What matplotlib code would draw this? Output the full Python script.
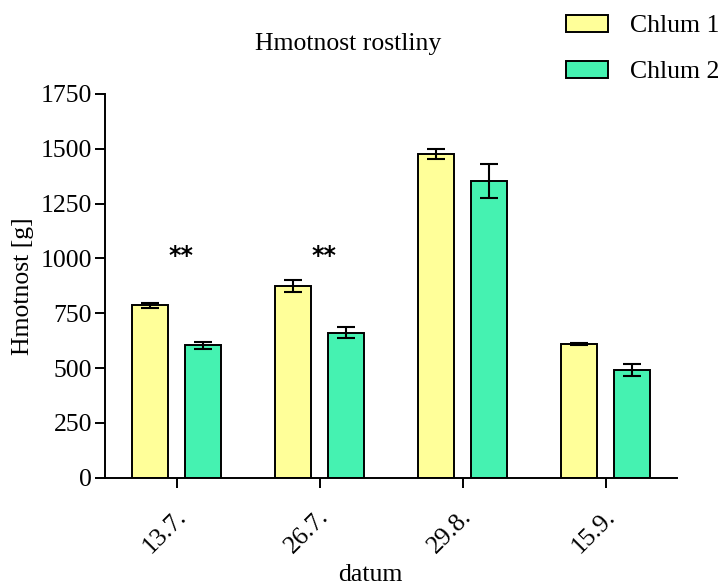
import numpy as np
import matplotlib.pyplot as plt
from matplotlib.transforms import ScaledTranslation

# Data
dates = ['13.7.', '26.7.', '29.8.', '15.9.']
chlum1_mean = [786, 875, 1477, 610]
chlum1_err = [11, 27, 23, 5]
chlum2_mean = [605, 662, 1354, 491]
chlum2_err = [16, 27, 78, 28]
signif = ['**', '**', '', '']

COLOR_C1 = '#FFFF99'
COLOR_C2 = '#45F2B1'
FS = 18.5

plt.rcParams['font.family'] = ['Liberation Serif', 'DejaVu Serif']

fig = plt.figure(figsize=(7.23, 5.85), dpi=100)
ax = fig.add_axes([105 / 723, 1 - 477.7 / 585, 572 / 723, 383.7 / 585])

x = np.arange(len(dates))
w = 0.25
off = 0.187
err_kw = dict(ecolor='black', elinewidth=1.5, capsize=6.7, capthick=1.5)
b1 = ax.bar(x - off, chlum1_mean, w, color=COLOR_C1, edgecolor='black',
            linewidth=1.4, label='Chlum 1', zorder=2)
ax.errorbar(x - off, chlum1_mean, yerr=chlum1_err, fmt='none', zorder=3, **err_kw)
b2 = ax.bar(x + off, chlum2_mean, w, color=COLOR_C2, edgecolor='black',
            linewidth=1.4, label='Chlum 2', zorder=2)
ax.errorbar(x + off, chlum2_mean, yerr=chlum2_err, fmt='none', zorder=3, **err_kw)

# significance marks
for xi, s in zip(x, signif):
    if s:
        ax.text(xi + 0.03, 1010, s, ha='center', va='center', fontsize=17,
                fontfamily='DejaVu Sans', fontweight='bold')

ax.set_xlim(-0.5, 3.5)
ax.set_ylim(0, 1750)
ax.set_yticks(np.arange(0, 1751, 250))
ax.set_xticks(x)
ax.set_xticklabels(dates, rotation=45, ha='right', rotation_mode='anchor', va='center')

for side in ['top', 'right']:
    ax.spines[side].set_visible(False)
for side in ['left', 'bottom']:
    ax.spines[side].set_linewidth(1.4)
ax.tick_params(axis='both', direction='out', length=7.2, width=1.4, labelsize=FS)
ax.tick_params(axis='x', pad=10)
ax.tick_params(axis='y', pad=2)

# nudge rotated date labels to the reference position
shift = ScaledTranslation(6 / 100, -12 / 100, fig.dpi_scale_trans)
for lbl in ax.get_xticklabels():
    lbl.set_transform(lbl.get_transform() + shift)

ax.set_ylabel('Hmotnost [g]', fontsize=FS)
ax.set_xlabel('datum', fontsize=FS)
ax.xaxis.set_label_coords(0.4645, -0.225)
ax.yaxis.set_label_coords(-0.125, 0.5)

fig.text(348 / 723, 1 - 50 / 585, 'Hmotnost rostliny', ha='center', va='baseline', fontsize=FS)

fig.legend(handles=[b1, b2], loc='upper left', bbox_to_anchor=(566 / 723, 1 - 15 / 585),
           frameon=False, fontsize=FS, handlelength=1.62, handleheight=0.62,
           handletextpad=0.87, labelspacing=0.92, borderpad=0, borderaxespad=0)

fig.savefig('out.png', dpi=100)
